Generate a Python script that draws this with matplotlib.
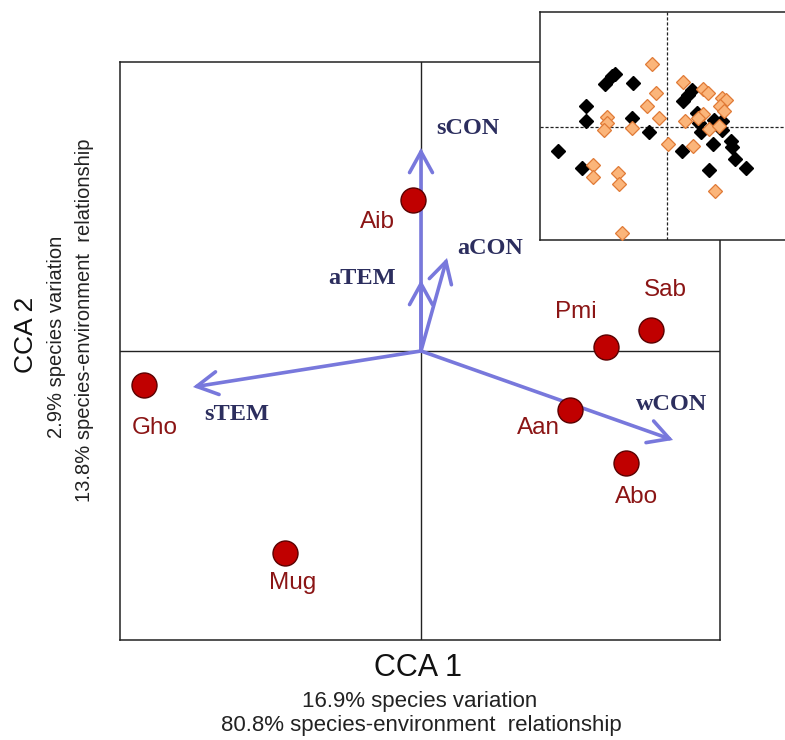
import matplotlib
matplotlib.use("Agg")
import matplotlib.pyplot as plt
from matplotlib.patches import FancyArrowPatch

# ---------------- data ----------------
species = ["Aib", "Sab", "Pmi", "Aan", "Abo", "Gho", "Mug"]
species_x = [-0.08, 2.30, 1.85, 1.49, 2.05, -2.77, -1.36]
species_y = [1.51, 0.21, 0.04, -0.59, -1.12, -0.34, -2.02]

env_vars = ["sCON", "aTEM", "aCON", "wCON", "sTEM"]
env_x = [0.0, 0.0, 0.26, 2.52, -2.28]
env_y = [2.03, 0.71, 0.93, -0.89, -0.36]

inset_black_x = [-1.56, -1.64, -1.86, -1.03, -2.43, -2.43, -1.06, -0.53, -3.26, -2.54,
                 0.49, 0.64, 0.76, 0.91, 0.97, 1.01, 1.41, 1.64, 1.64, 1.39,
                 0.44, 1.92, 1.94, 2.04, 2.36, 1.26]
inset_black_y = [1.61, 1.54, 1.31, 1.33, 0.64, 0.18, 0.28, -0.16, -0.72, -1.22,
                 0.79, 0.98, 1.11, 0.44, 0.14, -0.14, 0.23, 0.18, -0.09, -0.52,
                 -0.71, -0.41, -0.59, -0.97, -1.24, -1.29]
inset_orange_x = [-0.46, -0.33, -0.61, -0.24, -1.81, -1.81, -1.88, -1.06, -2.21, -2.21,
                  -1.46, -1.44, -1.36, 0.04, 0.79, 1.44, 0.49, 1.07, 1.22, 1.64,
                  1.77, 1.59, 1.72, 0.54, 1.07, 0.94, 1.27, 1.57]
inset_orange_y = [1.91, 1.04, 0.64, 0.29, 0.31, 0.14, -0.09, -0.04, -1.14, -1.51,
                  -1.39, -1.72, -3.19, -0.52, -0.56, -1.91, 1.36, 1.16, 1.03, 0.89,
                  0.83, 0.64, 0.48, 0.18, 0.39, 0.29, -0.07, 0.03]

xlabel_main = "CCA 1"
xlabel_sub = ["16.9% species variation", "80.8% species-environment  relationship"]
ylabel_main = "CCA 2"
ylabel_sub = ["2.9% species variation", "13.8% species-environment  relationship"]

# ---------------- layout / style ----------------
species_label_offsets = {  # in pixels (dx right, dy down)
    "Aib": (-36, 22), "Sab": (14, -40), "Pmi": (-30, -35), "Aan": (-32, 18),
    "Abo": (11, 34), "Gho": (11, 43), "Mug": (8, 30),
}
env_label_offsets = {
    "sCON": (47, -20), "aTEM": (-59, -2), "aCON": (43, -10),
    "wCON": (-1, -35), "sTEM": (44, 28),
}

W, H = 785, 740
fig = plt.figure(figsize=(W / 100, H / 100), dpi=100)
fig.patch.set_facecolor("white")

ax = fig.add_axes([120 / W, (H - 640) / H, 600 / W, 578 / H])
ax.set_xlim(-3.01, 2.99)
ax.set_ylim(-2.89, 2.89)
ax.set_xticks([])
ax.set_yticks([])
for s in ax.spines.values():
    s.set_linewidth(1.1)
    s.set_color("#222222")
ax.axhline(0, color="#222222", lw=1.0, zorder=1)
ax.axvline(0, color="#222222", lw=1.0, zorder=1)

arrow_color = "#7878dc"
label_color = "#2c2e5e"
for name, x, y in zip(env_vars, env_x, env_y):
    arr = FancyArrowPatch((0, 0), (x, y), arrowstyle="->,head_length=1.0,head_width=0.55",
                          mutation_scale=15, color=arrow_color, lw=2.6,
                          shrinkA=0, shrinkB=0, zorder=3, capstyle="round",
                          joinstyle="miter")
    ax.add_patch(arr)
    dx, dy = env_label_offsets[name]
    ax.annotate(name, (x, y), xytext=(dx * 0.72, -dy * 0.72), textcoords="offset points",
                ha="center", va="center", fontsize=17.5, fontweight="bold",
                family=["Liberation Serif", "DejaVu Serif"], color=label_color, zorder=4)

ax.scatter(species_x, species_y, s=18 ** 2, c="#c00000", edgecolors="#5a0000",
           linewidths=1.0, zorder=5)
for name, x, y in zip(species, species_x, species_y):
    dx, dy = species_label_offsets[name]
    ax.annotate(name, (x, y), xytext=(dx * 0.72, -dy * 0.72), textcoords="offset points",
                ha="center", va="center", fontsize=17.5,
                family=["Liberation Sans", "DejaVu Sans"], color="#8b1515", zorder=6)

sans = ["Liberation Sans", "DejaVu Sans"]
fig.text(418 / W, 1 - 668 / H, xlabel_main, ha="center", va="center", fontsize=22,
         family=sans, color="#111111")
fig.text(420 / W, 1 - 701 / H, xlabel_sub[0], ha="center", va="center", fontsize=16,
         family=sans, color="#222222")
fig.text(421 / W, 1 - 725 / H, xlabel_sub[1], ha="center", va="center", fontsize=16,
         family=sans, color="#222222")
fig.text(26 / W, 1 - 335 / H, ylabel_main, ha="center", va="center", fontsize=19,
         rotation=90, family=sans, color="#111111")
fig.text(57 / W, 1 - 337 / H, ylabel_sub[0], ha="center", va="center", fontsize=14.5,
         rotation=90, family=sans, color="#222222")
fig.text(85 / W, 1 - 320 / H, ylabel_sub[1], ha="center", va="center", fontsize=14.5,
         rotation=90, family=sans, color="#222222")

# ---------------- inset ----------------
iax = fig.add_axes([540 / W, (H - 240) / H, 250 / W, 228 / H])
iax.set_facecolor("white")
iax.set_xlim(-3.81, 3.69)
iax.set_ylim(-3.39, 3.46)
iax.set_xticks([])
iax.set_yticks([])
for s in iax.spines.values():
    s.set_linewidth(1.1)
    s.set_color("#222222")
iax.axhline(0, color="#222222", lw=0.9, ls=(0, (2.5, 1.5)), zorder=1)
iax.axvline(0, color="#222222", lw=0.9, ls=(0, (2.5, 1.5)), zorder=1)
iax.plot(inset_black_x, inset_black_y, ls="none", marker="D", ms=7.5,
         mfc="black", mec="black", zorder=2)
iax.plot(inset_orange_x, inset_orange_y, ls="none", marker="D", ms=7.0,
         mfc="#fbb57a", mec="#e07a36", mew=0.9, zorder=3)

fig.savefig("out.png", dpi=100)
